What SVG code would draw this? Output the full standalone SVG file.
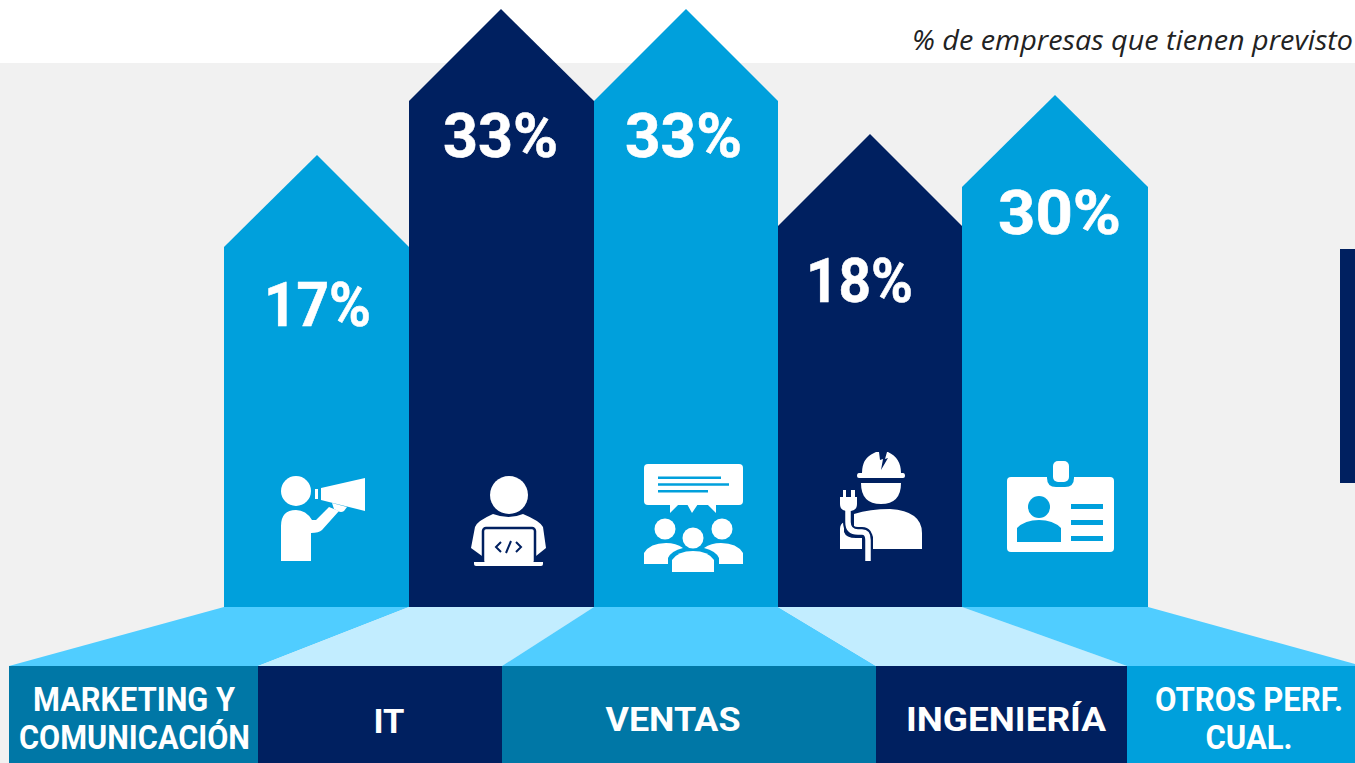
<svg xmlns="http://www.w3.org/2000/svg" width="1355" height="763" viewBox="0 0 1355 763">
<style>
.cy{fill:#00a0dc}.nv{fill:#002060}.teal{fill:#0077a6}.fa{fill:#50cdff}.fb{fill:#c2edff}
.w{fill:#fff}
.pct{font-family:"Roboto",sans-serif;font-weight:700;font-size:62px;fill:#fff;stroke:#fff;stroke-width:.6px;text-anchor:middle}
.lab{font-family:"Roboto",sans-serif;font-weight:700;font-size:33px;fill:#fff;text-anchor:middle}
.gc{fill:none;stroke:#00a0dc}.gn{fill:none;stroke:#002060}
</style>
<rect width="1355" height="763" fill="#fff"/>
<rect y="63" width="1355" height="700" fill="#f1f1f1"/>
<text x="1353" y="50" font-family="Open Sans,sans-serif" font-style="italic" font-weight="400" font-size="27" fill="#222" text-anchor="end" textLength="441" lengthAdjust="spacingAndGlyphs">% de empresas que tienen previsto</text>
<rect class="nv" x="1340" y="249" width="15" height="234"/>
<g id="marketing">
<polygon class="fa" points="224,607 409,607 258,666 9,666"/>
<rect class="teal" x="9" y="666" width="249" height="97"/>
<text class="lab" x="134" y="711" textLength="202" lengthAdjust="spacingAndGlyphs">MARKETING Y</text><text class="lab" x="134.500" y="749" textLength="231" lengthAdjust="spacingAndGlyphs">COMUNICACIÓN</text>
<polygon class="cy" points="224,607 224,247 317,155 409,247 409,607"/>
<text class="pct" x="317.500" y="326" textLength="107" lengthAdjust="spacingAndGlyphs">17%</text>
<circle class="w" cx="296" cy="491" r="15"/>
<path class="w" d="M281 561V526Q281 510 296 510Q306 510 312 520H316L329 507L339 511L322 530Q319 533 311 533V561Z"/>
<path class="w" d="M321 488L365 478V511L321 500Z M315 489H318V499H315Z M332 503L347 507L344 511Q341 513 338 511L334 509Z"/>
</g>
<g id="it">
<polygon class="fb" points="409,607 594,607 502,666 258,666"/>
<rect class="nv" x="258" y="666" width="244" height="97"/>
<text class="lab" x="389" y="733" textLength="31" lengthAdjust="spacingAndGlyphs">IT</text>
<polygon class="nv" points="409,607 409,101 501,9 594,101 594,607"/>
<text class="pct" x="500.500" y="157" textLength="115" lengthAdjust="spacingAndGlyphs">33%</text>
<circle class="w" cx="509" cy="495" r="19"/>
<path class="w" d="M471 548L475 527Q477 521 493 514Q509 520 523 514Q540 521 543 527L546 548L536 556H482Z"/>
<rect class="w" x="483" y="528" width="52" height="36" rx="3" stroke="#002060" stroke-width="2.500"/>
<path class="w" d="M474 562H543V564Q543 566 541 566H476Q474 566 474 564Z"/>
<path class="gn" stroke-width="2" d="M501 542L496 547L501 552M516 542L521 547L516 552M506 553L511 541"/>
</g>
<g id="ventas">
<polygon class="fa" points="594,607 778,607 876,666 502,666"/>
<rect class="teal" x="502" y="666" width="374" height="97"/>
<text class="lab" x="673" y="731" textLength="135" lengthAdjust="spacingAndGlyphs">VENTAS</text>
<polygon class="cy" points="594,607 594,101 686,9 778,101 778,607"/>
<text class="pct" x="683.500" y="157" textLength="117" lengthAdjust="spacingAndGlyphs">33%</text>
<rect class="w" x="644" y="464" width="99" height="41" rx="4"/>
<path class="w" d="M670 504V513L679 504ZM687 504L692 513L698 504ZM707 504L716 513V504Z"/>
<path class="gc" stroke-width="2.500" d="M658 477.700H721M658 484.500H729M658 491.300H708"/>
<circle class="w" cx="665" cy="529" r="10.500"/><circle class="w" cx="722" cy="529" r="10.500"/><circle class="w" cx="693" cy="538" r="10.500"/>
<path class="w" d="M644 564V553Q650 543 666 543Q676 543 683 548Q671 551 668 558V564ZM743 564V553Q737 543 721 543Q711 543 704 548Q716 551 719 558V564Z"/>
<path class="w" d="M672 572V560Q678 551 693 551Q708 551 714 560V572Z"/>
</g>
<g id="ingenieria">
<polygon class="fb" points="778,607 962,607 1127,666 876,666"/>
<rect class="nv" x="876" y="666" width="251" height="97"/>
<text class="lab" x="1006" y="731" textLength="200" lengthAdjust="spacingAndGlyphs">INGENIERÍA</text>
<polygon class="nv" points="778,607 778,226 870,134 962,226 962,607"/>
<text class="pct" x="859.500" y="302" textLength="107" lengthAdjust="spacingAndGlyphs">18%</text>
<path class="w" d="M862 473Q862 458 874 453L876 452H879L880 460L883 459L881 470L888 458L885 459L887 452H888Q901 458 901 473H903Q905 473 905 476Q905 478 903 478H859Q857 478 857 476Q857 473 859 473Z"/>
<path class="w" d="M861 483H901Q901 504 881 504Q861 504 861 483Z"/>
<path class="w" d="M854 514Q870 509 890 509Q922 511 922 533V549H873V537L865 528H854ZM840 549V529Q840 524 844 522V532Q846 538 856 538H862V549Z"/>
<path fill="none" stroke="#002060" stroke-width="10" d="M848 505V522Q848 532 858 532H862Q868 532 868 540V563"/>
<path fill="none" stroke="#fff" stroke-width="5.500" d="M848 505V522Q848 532 858 532H862Q868 532 868 540V561"/>
<path class="w" d="M840 497H857V504Q857 510 851 511H846Q840 510 840 504ZM843 490H846V498H843ZM851 490H855V498H851Z"/>
</g>
<g id="otros">
<polygon class="fa" points="962,607 1148,607 1355,664 1355,666 1127,666"/>
<rect class="cy" x="1127" y="666" width="228" height="97"/>
<text class="lab" x="1249" y="711" textLength="188" lengthAdjust="spacingAndGlyphs">OTROS PERF.</text><text class="lab" x="1249" y="749" textLength="87" lengthAdjust="spacingAndGlyphs">CUAL.</text>
<polygon class="cy" points="962,607 962,187 1055,95 1148,187 1148,607"/>
<text class="pct" x="1059.500" y="234" textLength="123" lengthAdjust="spacingAndGlyphs">30%</text>
<rect class="w" x="1007" y="477" width="107" height="75" rx="4"/>
<path class="cy" d="M1047 476H1074V478Q1074 487 1065 487H1056Q1047 487 1047 478Z"/>
<rect class="w" x="1053" y="461" width="16" height="21" rx="5"/>
<circle class="cy" cx="1039" cy="507" r="11"/>
<path class="cy" d="M1017 542V528Q1025 520 1039 520Q1053 520 1061 528V542Z"/>
<path class="cy" d="M1071 504H1103V509H1071ZM1071 520H1103V525H1071ZM1071 536H1103V541H1071Z"/>
</g>
</svg>
